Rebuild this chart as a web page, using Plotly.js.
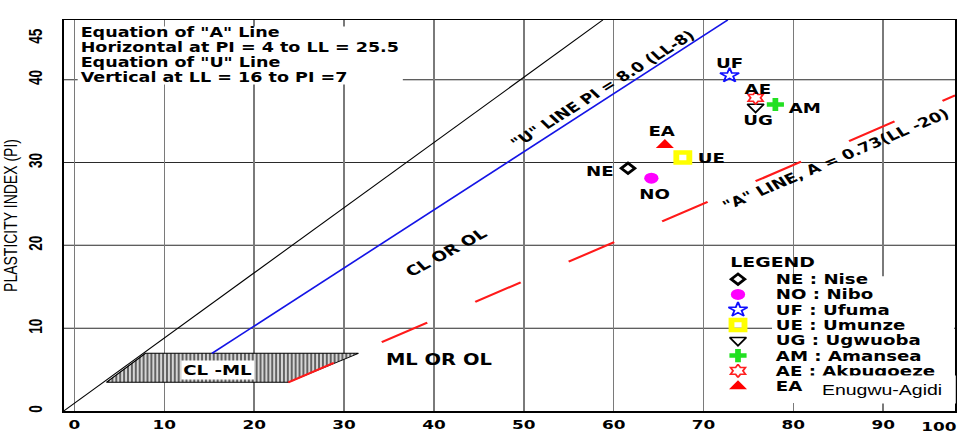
<!DOCTYPE html>
<html><head><meta charset="utf-8">
<script src="https://cdn.plot.ly/plotly-3.0.1.min.js"></script>
<style>
html,body{margin:0;padding:0;background:#fff;overflow:hidden;width:959px;height:444px}
#chart{width:738px;height:444px;transform:scaleX(1.29946);transform-origin:0 0}
</style></head><body><div id="chart"></div>
<script>
// ---------------- data ----------------
const siteCodes = ['NE','NO','UF','UE','UG','AM','AE','EA'];
const siteNames = ['Nise','Nibo','Ufuma','Umunze','Ugwuoba','Amansea','Akpugoeze','Enugwu-Agidi'];
const liquidLimit = [61.6, 64.2, 72.9, 67.7, 75.8, 78.0, 75.8, 65.7];
const plasticityIndex = [29.3, 28.1, 40.5, 30.6, 36.7, 37.0, 37.8, 32.1];

const refLineLL = [-1.2, 58.8];
const refLinePI = [0, 47.2];
const uLineLL = [15.3, 72.7];
const uLinePI = [6.96, 47.2];
const aLineLL = [23.8, 98.0];
const aLinePI = [3.46, 38.1];
const clmlLL = [3.55, 7.9, 31.6, 23.8, 3.55];
const clmlPI = [3.46, 6.96, 6.96, 3.46, 3.46];

const xTickVals = [0,10,20,30,40,50,60,70,80,90];
const xTickText = ['0','10','20','30','40','50','60','70','80','90'];
const xEndLabel = '100';
const yTickVals = [0,10,20,30,40,45];
const yTickText = ['0','10','20','30','40','45'];
const yGridVals = [10,20,30,40];
const infoLines = ['Equation of "A" Line','Horizontal at PI = 4 to LL = 25.5','Equation of "U" Line','Vertical at LL = 16 to PI =7'];

// ---------------- geometry helpers (observed pixel space) ----------------
const W = 738, H = 444, S = 959 / W;
const PLOT = {l:64, r:955, t:19.5, b:411};
const XR = [-1.2, 98], YR = [0, 47.2];
const fx = p => (p - PLOT.l) / (PLOT.r - PLOT.l);
const fy = p => (PLOT.b - p) / (PLOT.b - PLOT.t);
const dX = p => XR[0] + fx(p) * (XR[1] - XR[0]);
const dY = p => YR[0] + fy(p) * (YR[1] - YR[0]);

const BOLD = 'DejaVu Sans';
const bold = (size) => ({family: BOLD, size: size, color: '#000', weight: 'bold'});

// marker styles per site
const markerStyles = [
  {symbol:'diamond-open', size:8, color:'#000', line:{width:2.5, color:'#000'}},
  {symbol:'circle', size:11, color:'#ff00ff', line:{width:0}},
  {symbol:'star-open', size:11, color:'#1010ff', line:{width:1.5, color:'#1010ff'}},
  {symbol:'square-open', size:10, color:'#ffff00', line:{width:4.5, color:'#ffff00'}},
  {symbol:'triangle-down-open', size:11, color:'#000', line:{width:1.5, color:'#000'}},
  {symbol:'cross', size:11, color:'#22e022', line:{width:0}},
  {symbol:'hexagram-open', size:10, color:'#ff2020', line:{width:1.5, color:'#ff2020'}},
  {symbol:'triangle-up', size:12, color:'#ff0000', line:{width:0}}
];
// label offsets (observed px, centre of label minus point)
const labelOffsets = [[-28.7,2.7],[3,15.3],[0,-12.5],[28.3,0.3],[2.5,13.3],[29,3.5],[1.7,-9.3],[-2.5,-14]];

const traces = [];
traces.push({x: clmlLL, y: clmlPI, mode:'lines', fill:'toself', fillcolor:'#cfcfcf',
  fillpattern:{shape:'|', fgcolor:'#555', bgcolor:'#d6d6d6', size:3, solidity:0.45},
  line:{color:'#000', width:1}, hoverinfo:'skip'});
traces.push({x: refLineLL, y: refLinePI, mode:'lines', line:{color:'#000', width:1}, hoverinfo:'skip'});
traces.push({x: uLineLL, y: uLinePI, mode:'lines', line:{color:'#1414e6', width:1.5}, hoverinfo:'skip'});
traces.push({x: aLineLL, y: aLinePI, mode:'lines', line:{color:'#ff1a1a', width:2, dash:'40.1px,42.3px'}, hoverinfo:'skip'});

siteCodes.forEach((c, i) => {
  traces.push({x:[liquidLimit[i]], y:[plasticityIndex[i]], mode:'markers', name:c,
    marker: markerStyles[i], cliponaxis:false});
});

// manual legend keys
const legKeyX = 738, legRow0 = 279, legStep = 15.3, legTextX = 773;
siteCodes.forEach((c, i) => {
  traces.push({x:[dX(legKeyX)], y:[dY(legRow0 + i*legStep)], mode:'markers',
    marker: markerStyles[i], hoverinfo:'skip', cliponaxis:false});
});

const annotations = [];
infoLines.forEach((t, i) => {
  annotations.push({xref:'paper', yref:'paper', x: fx(79), y: fy(31.7 + 15*i), xanchor:'left', yanchor:'middle',
    text: t, showarrow:false, font: bold(13.5), borderpad:0});
});
siteCodes.forEach((c, i) => {
  annotations.push({xref:'x', yref:'y', x: liquidLimit[i], y: plasticityIndex[i], text:c, showarrow:false,
    xshift: labelOffsets[i][0] / S, yshift: -labelOffsets[i][1], font: bold(14), xanchor:'center', yanchor:'middle'});
});
annotations.push({xref:'x', yref:'y', x:dX(602), y:dY(88.5), text:'"U" LINE PI = 8.0 (LL-8)', showarrow:false,
  textangle:-39, font: bold(13.5), borderpad:0});
annotations.push({xref:'x', yref:'y', x:dX(836), y:dY(159), text:'"A" LINE, A = 0.73(LL -20)', showarrow:false,
  textangle:-28.7, font: bold(13.5), borderpad:0});
annotations.push({xref:'x', yref:'y', x:dX(447), y:dY(252), text:'CL OR OL', showarrow:false,
  textangle:-35, font: bold(14)});
annotations.push({xref:'x', yref:'y', x:dX(440), y:dY(359.5), text:'ML OR OL', showarrow:false, font: bold(15)});
annotations.push({xref:'x', yref:'y', x:dX(218.5), y:dY(370), text:'CL -ML', showarrow:false, font: bold(14),
  bgcolor:'#fff', borderpad:1});
// legend texts
annotations.push({xref:'paper', yref:'paper', x:fx(728), y:fy(261.5), text:'LEGEND', showarrow:false,
  xanchor:'left', yanchor:'middle', font: bold(14.5)});
siteCodes.forEach((c, i) => {
  const t = i < siteCodes.length - 1 ? c + ' : ' + siteNames[i] : c;
  annotations.push({xref:'paper', yref:'paper', x:fx(legTextX), y:fy(legRow0 + i*legStep), text:t, showarrow:false,
    xanchor:'left', yanchor:'middle', font: bold(14)});
});
annotations.push({xref:'paper', yref:'paper', x:fx(957), y:0, yshift:-15.7, text:xEndLabel, showarrow:false,
  xanchor:'right', yanchor:'middle', font: bold(13), borderpad:0});
annotations.push({xref:'paper', yref:'paper', x:fx(882.5), y:fy(389.5), text:siteNames[7], showarrow:false,
  xanchor:'center', yanchor:'middle', width:145/S, height:27, bgcolor:'#fff', borderpad:0, align:'center',
  font:{family:'Liberation Sans', size:15, color:'#000'}});

const shapes = [];
yGridVals.forEach(v => shapes.push({type:'line', xref:'paper', x0:0, x1:1, yref:'y', y0:v, y1:v, layer:'below',
  line:{color:'#2a2a2a', width:1}}));
shapes.push({type:'rect', xref:'paper', yref:'paper', x0:fx(78), x1:fx(403), y0:fy(84), y1:fy(26),
  fillcolor:'#fff', line:{width:0}, layer:'above'});
shapes.push({type:'rect', xref:'paper', yref:'paper', x0:fx(772), x1:fx(954), y0:fy(403), y1:fy(276),
  fillcolor:'#fff', line:{width:0}, layer:'above'});

const layout = {
  width: W, height: H,
  margin: {l: PLOT.l / S, r: (959 - PLOT.r) / S, t: PLOT.t, b: H - PLOT.b, pad: 0},
  paper_bgcolor:'#fff', plot_bgcolor:'#fff', showlegend:false,
  xaxis: {range: XR, tickmode:'array', tickvals: xTickVals, ticktext: xTickText, showgrid:true, gridcolor:'#7a7a7a',
    gridwidth:1.2, zeroline:false, showline:true, linecolor:'#000', linewidth:1.5, mirror:true, ticks:'',
    tickfont: bold(13), ticklabelstandoff: 1},
  yaxis: {range: YR, tickmode:'array', tickvals: yTickVals, ticktext: yTickText, showgrid:false, zeroline:false,
    showline:true, linecolor:'#000', linewidth:1.5, mirror:true, ticks:'', tickangle:-90, ticklabelstandoff: 10,
    tickfont:{family:'Liberation Sans', size:13.5, color:'#000', weight:'bold'},
    title:{text:'PLASTICITY INDEX (PI)', standoff: 9, font:{family:'Liberation Sans', size:14, color:'#000'}}},
  annotations: annotations,
  shapes: shapes
};

Plotly.newPlot('chart', traces, layout, {displayModeBar:false, staticPlot:true});
</script></body></html>
